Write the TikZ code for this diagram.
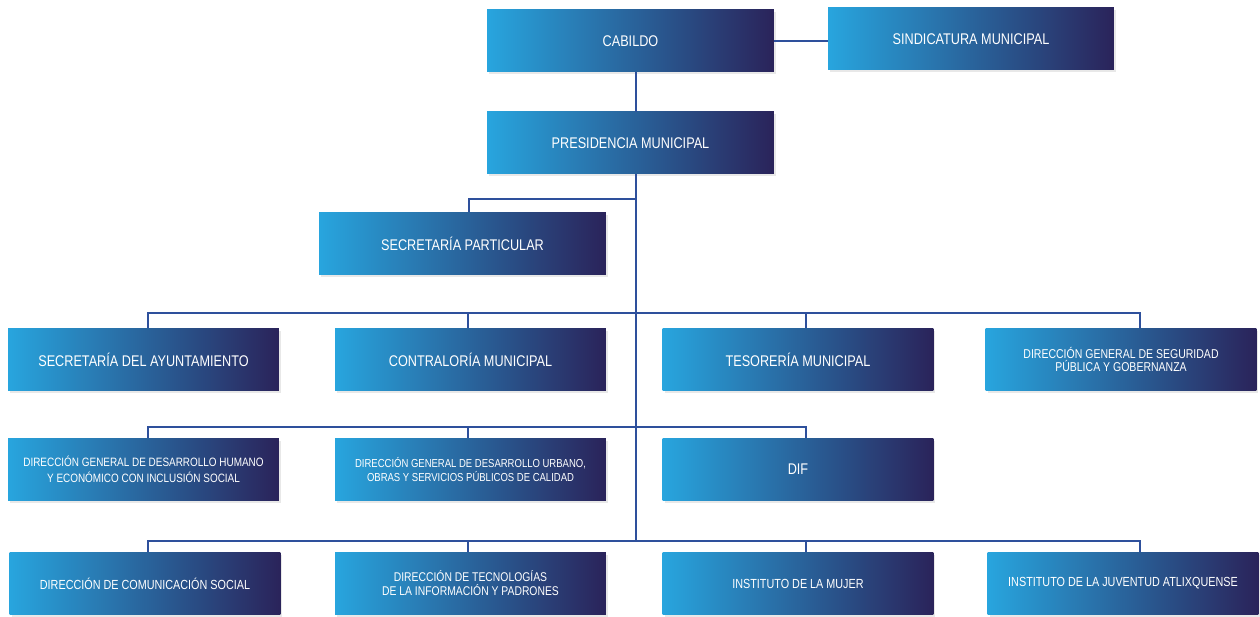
\documentclass[tikz,border=0pt]{standalone}
\usepackage{fontspec}
\setmainfont[FakeStretch=0.82]{Liberation Sans}
\usetikzlibrary{shadows,calc}
\definecolor{lc}{RGB}{46,80,156}
\definecolor{gl}{RGB}{40,165,222}
\definecolor{gr}{RGB}{42,35,90}
\begin{document}
\begin{tikzpicture}[x=0.02cm,y=-0.02cm,
 orgbox/.style={rectangle, left color=gl, right color=gr, text=white, align=center,
   minimum height=1.25cm, inner sep=0pt, font=\fontsize{8.8}{10}\selectfont,
   drop shadow={opacity=0.18, shadow xshift=0.04cm, shadow yshift=-0.05cm}},
 widebox/.style={orgbox, minimum width=5.74cm},
 narrowbox/.style={orgbox, minimum width=5.42cm},
 midtext/.style={font=\fontsize{7.5}{8.5}\selectfont},
 link/.style={draw=lc, line width=1.4pt}]
\useasboundingbox (0,0) rectangle (1260,617);
\fill[white] (0,0) rectangle (1260,617);

\coordinate (tx) at (636,0);

\node[widebox, minimum height=1.24cm] (cab) at (630.5,41) {CABILDO};
\node[widebox, minimum width=5.72cm, minimum height=1.24cm] (sind) at (971,39) {SINDICATURA MUNICIPAL};
\node[widebox, minimum height=1.24cm] (pres) at (630.5,143) {PRESIDENCIA MUNICIPAL};
\node[widebox] (secp) at (462.5,243.5) {SECRETARÍA PARTICULAR};

\node[narrowbox] (sa) at (143.5,359.5) {SECRETARÍA DEL AYUNTAMIENTO};
\node[narrowbox] (cm) at (470.5,359.5) {CONTRALORÍA MUNICIPAL};
\node[narrowbox] (tm) at (798,359.5) {TESORERÍA MUNICIPAL};
\node[narrowbox, font=\fontsize{7.3}{7.4}\selectfont] (dgs) at (1121,359.5) {DIRECCIÓN GENERAL DE SEGURIDAD\\PÚBLICA Y GOBERNANZA};

\node[narrowbox, font=\fontsize{6.9}{9.4}\selectfont] (dh) at (143.5,469.5) {DIRECCIÓN GENERAL DE DESARROLLO HUMANO\\Y ECONÓMICO CON INCLUSIÓN SOCIAL};
\node[narrowbox, font=\fontsize{6.6}{8.4}\selectfont] (du) at (470.5,469.5) {DIRECCIÓN GENERAL DE DESARROLLO URBANO,\\OBRAS Y SERVICIOS PÚBLICOS DE CALIDAD};
\node[narrowbox] (dif) at (798,469.5) {DIF};

\node[narrowbox, midtext] (dc) at (145,583.5) {DIRECCIÓN DE COMUNICACIÓN SOCIAL};
\node[narrowbox, font=\fontsize{7.2}{8}\selectfont] (dt) at (470.5,583.5) {DIRECCIÓN DE TECNOLOGÍAS\\DE LA INFORMACIÓN Y PADRONES};
\node[narrowbox, midtext] (im) at (798,583.5) {INSTITUTO DE LA MUJER};
\node[narrowbox, midtext] (ij) at (1123,583.5) {INSTITUTO DE LA JUVENTUD ATLIXQUENSE};

% connectors
\draw[link] (cab.east) -- (cab.east -| sind.west);
\draw[link] (cab.south -| tx) -- (pres.north -| tx);
\coordinate (b3) at ($(dc.north)+(0,-11)$);
\draw[link] (pres.south -| tx) -- (b3 -| tx);
\coordinate (bp) at (636,199);
\draw[link] (bp) -| ($(secp.north)+(6.5,0)$);

% row 1
\draw[link] ($(sa.north)+(4.5,0)$) |- ($(dgs.north)+(19,-15)$) -- ($(dgs.north)+(19,0)$);
\draw[link] ($(cm.north)+(-2.5,-15)$) -- ($(cm.north)+(-2.5,0)$);
\draw[link] ($(tm.north)+(8,-15)$) -- ($(tm.north)+(8,0)$);

% row 2
\draw[link] ($(dh.north)+(4.5,0)$) |- ($(dif.north)+(8,-11)$) -- ($(dif.north)+(8,0)$);
\draw[link] ($(du.north)+(-2.5,-11)$) -- ($(du.north)+(-2.5,0)$);

% row 3
\draw[link] ($(dc.north)+(3,0)$) |- ($(ij.north)+(17,-11)$) -- ($(ij.north)+(17,0)$);
\draw[link] ($(dt.north)+(-2.5,-11)$) -- ($(dt.north)+(-2.5,0)$);
\draw[link] ($(im.north)+(8,-11)$) -- ($(im.north)+(8,0)$);
\end{tikzpicture}
\end{document}
